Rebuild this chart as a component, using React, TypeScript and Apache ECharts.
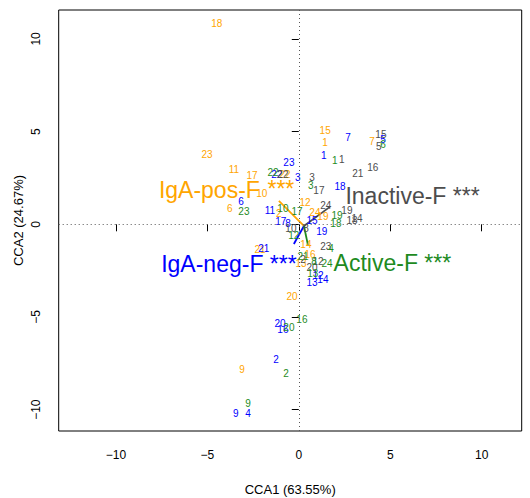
import React, { useEffect, useRef } from "react";
import * as echarts from "echarts";

const FONT = "'Liberation Sans', Arial, Helvetica, sans-serif";

// Axis ticks
const xTicks = [-10, -5, 0, 5, 10];
const yTicks = [-10, -5, 0, 5, 10];

// IgA-pos-F (orange) sample scores
const posLabels = ["18", "15", "1", "7", "23", "11", "17", "10", "6", "2", "22", "12", "24", "19", "14", "21", "16", "13", "20", "9"];
const posX = [-4.48, 1.44, 1.44, 4.0, -5.02, -3.55, -2.56, -2.02, -3.77, -1.09, -0.76, 0.34, 0.88, 1.32, 0.39, -2.12, 0.61, 0.12, -0.37, -3.11];
const posY = [10.81, 5.04, 4.39, 4.44, 3.74, 2.98, 2.61, 1.64, 0.83, 0.56, 2.71, 1.15, 0.61, 0.4, -1.11, -1.38, -1.65, -2.14, -3.87, -7.82];

// IgA-neg-F (blue)
const negLabels = ["7", "5", "1", "23", "22", "3", "18", "6", "11", "17", "8", "15", "19", "21", "12", "13", "14", "20", "16", "2", "9", "4"];
const negX = [2.69, 4.6, 1.37, -0.54, -1.2, -0.05, 2.25, -3.16, -1.58, -0.98, -0.59, 0.72, 1.26, -1.91, 1.05, 0.72, 1.32, -1.03, -0.87, -1.25, -3.44, -2.78];
const negY = [4.66, 4.6, 3.73, 3.36, 2.71, 2.5, 2.02, 1.21, 0.72, 0.13, 0.07, 0.18, -0.41, -1.33, -2.74, -3.15, -3.0, -5.33, -5.65, -7.27, -10.18, -10.18];

// Inactive-F (grey)
const inactLabels = ["15", "5", "1", "16", "21", "22", "3", "17", "24", "19", "18", "14", "8", "10", "23", "2", "20", "12"];
const inactX = [4.49, 4.38, 2.35, 4.05, 3.23, -0.87, 0.72, 1.1, 1.48, 2.63, 2.91, 3.18, 0.39, -0.43, 1.48, 0.23, 0.72, 1.05];
const inactY = [4.82, 4.22, 3.52, 3.09, 2.72, 2.66, 2.53, 1.8, 0.99, 0.77, 0.23, 0.29, -0.25, -0.2, -1.22, -1.91, -2.35, -2.03];

// Active-F (green)
const actLabels = ["6", "1", "22", "3", "23", "17", "10", "19", "18", "12", "4", "21", "8", "24", "13", "16", "20", "2", "9"];
const actX = [4.6, 1.97, -1.41, 0.66, -3.0, -0.1, -0.87, 2.09, 2.03, -0.27, 1.76, 0.23, 0.83, 1.54, 0.77, 0.17, -0.54, -0.7, -2.78];
const actY = [4.33, 3.42, 2.77, 2.07, 0.67, 0.67, 0.83, 0.45, 0.02, -0.63, -1.28, -1.76, -2.03, -2.09, -2.68, -5.12, -5.56, -8.07, -9.64];

// Group centroid labels
const groupNames = ["IgA-pos-F", "***", "IgA-neg-F ***", "Inactive-F ***", "Active-F ***"];
const groupX = [-4.89, -0.98, -3.82, 6.22, 5.12];
const groupY = [1.85, 1.91, -2.14, 1.53, -2.09];

// Vectors
const arrowStart = [0.28, -0.09];
const arrowEndX = [-1.09, 1.7, -0.27, 0.5];
const arrowEndY = [1.26, 0.94, -1.06, -1.11];

const ORANGE = "#FFA500";
const BLUE = "#0000FF";
const GREY = "#4D4D4D";
const GREEN = "#1E8B1E";
const groupColors = [ORANGE, ORANGE, BLUE, GREY, GREEN];
const arrowColors = [ORANGE, GREY, BLUE, GREEN];

const fmt = (v: number) => (v < 0 ? "\u2212" + Math.abs(v) : String(v));

function labelSeries(labels: string[], xs: number[], ys: number[], color: string) {
  return {
    type: "scatter",
    symbol: "circle",
    symbolSize: 1,
    itemStyle: { color: "transparent", opacity: 1 },
    silent: true,
    emphasis: { disabled: true },
    data: labels.map((l, i) => ({ name: l, value: [xs[i], ys[i]] })),
    label: {
      show: true,
      position: "inside",
      formatter: "{b}",
      color,
      opacity: 1,
      fontSize: 10,
      fontFamily: FONT,
    },
  };
}

export default function App() {
  const ref = useRef<HTMLDivElement>(null);
  useEffect(() => {
    document.body.style.margin = "0";
    const chart = echarts.init(ref.current!, null, { renderer: "svg" });
    const option: any = {
      animation: false,
      backgroundColor: "#ffffff",
      textStyle: { fontFamily: FONT },
      grid: {
        left: 58.7,
        top: 10,
        width: 463,
        height: 421,
        show: true,
        borderColor: "#000",
        borderWidth: 1,
        backgroundColor: "transparent",
      },
      xAxis: {
        type: "value",
        min: -13.13,
        max: 12.19,
        splitLine: { show: false },
        axisLine: { show: false },
        axisTick: { show: true, customValues: xTicks, length: 7, lineStyle: { color: "#000" } },
        axisLabel: { customValues: xTicks, formatter: fmt, fontSize: 12, color: "#000", margin: 18, fontFamily: FONT },
      },
      yAxis: {
        type: "value",
        min: -11.15,
        max: 11.56,
        splitLine: { show: false },
        axisLine: { show: false },
        axisTick: { show: true, customValues: yTicks, length: 7, lineStyle: { color: "#000" } },
        axisLabel: { customValues: yTicks, formatter: fmt, fontSize: 12, color: "#000", margin: 17, rotate: 90, fontFamily: FONT },
      },
      graphic: [
        {
          type: "text",
          x: 290.2,
          y: 489,
          style: { text: "CCA1 (63.55%)", fontSize: 13, fontFamily: FONT, fill: "#000", align: "center", verticalAlign: "middle" },
        },
        {
          type: "text",
          x: 18,
          y: 220.5,
          rotation: Math.PI / 2,
          style: { text: "CCA2 (24.67%)", fontSize: 13, fontFamily: FONT, fill: "#000", align: "center", verticalAlign: "middle" },
        },
      ],
      series: [
        {
          type: "lines",
          coordinateSystem: "cartesian2d",
          silent: true,
          polyline: false,
          lineStyle: { width: 1.8, opacity: 1 },
          data: arrowEndX.map((x, i) => ({
            coords: [
              [arrowStart[0], arrowStart[1]],
              [x, arrowEndY[i]],
            ],
            lineStyle: { color: arrowColors[i], width: 1.8, opacity: 1 },
          })),
          markLine: {
            silent: true,
            symbol: ["none", "none"],
            label: { show: false },
            lineStyle: { type: [1, 3], color: "#555", width: 1 },
            data: [{ xAxis: 0 }, { yAxis: 0 }],
          },
        },
        labelSeries(posLabels, posX, posY, ORANGE),
        labelSeries(negLabels, negX, negY, BLUE),
        labelSeries(inactLabels, inactX, inactY, GREY),
        labelSeries(actLabels, actX, actY, GREEN),
        {
          type: "scatter",
          symbolSize: 1,
          itemStyle: { color: "transparent", opacity: 1 },
          silent: true,
          emphasis: { disabled: true },
          data: groupNames.map((n, i) => ({
            name: n,
            value: [groupX[i], groupY[i]],
            label: { color: groupColors[i] },
          })),
          label: { show: true, position: "inside", formatter: "{b}", fontSize: 23, fontFamily: FONT, opacity: 1 },
        },
      ],
    };
    chart.setOption(option);
    return () => chart.dispose();
  }, []);
  return <div ref={ref} style={{ width: 530, height: 498 }} />;
}
